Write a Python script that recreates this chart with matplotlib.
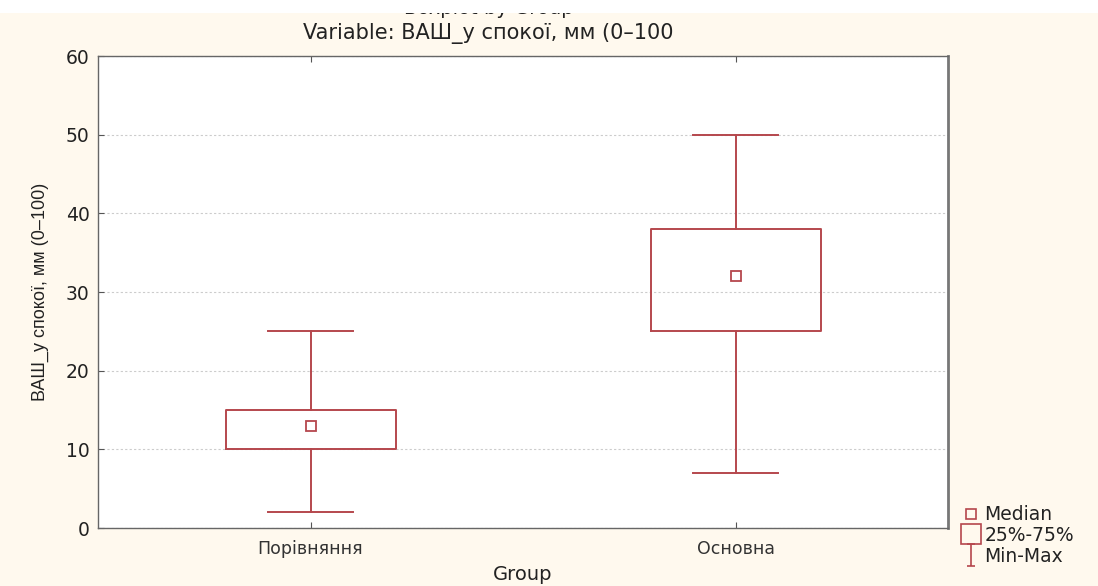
import matplotlib
matplotlib.use("Agg")
import matplotlib.pyplot as plt
from matplotlib.lines import Line2D
from matplotlib.path import Path
from matplotlib.patches import Rectangle

categories = ["Порівняння", "Основна"]
mins = [2, 7]
q1 = [10, 25]
medians = [13, 32]
q3 = [15, 38]
maxs = [25, 50]
yticks = [0, 10, 20, 30, 40, 50, 60]

col = "#b5474d"
bg = "#fff9ee"
fam = ["DejaVu Sans"]

fig = plt.figure(figsize=(10.98, 5.86), dpi=100, facecolor=bg)
ax = fig.add_axes([98/1098, 58/586, 850/1098, 472/586])
ax.set_facecolor("white")

stats = []
for i, c in enumerate(categories):
    stats.append(dict(label=c, whislo=mins[i], q1=q1[i], med=medians[i],
                      q3=q3[i], whishi=maxs[i], fliers=[]))
pos = list(range(1, len(categories) + 1))
ax.bxp(stats, positions=pos, widths=0.4, showfliers=False,
       boxprops=dict(color=col, lw=1.4),
       whiskerprops=dict(color=col, lw=1.4),
       capprops=dict(color=col, lw=1.4),
       medianprops=dict(lw=0),
       capwidths=0.2, zorder=3)
ax.plot(pos, medians, ls="none", marker="s", ms=6.5, mfc="white", mec=col,
        mew=1.3, zorder=4)

ax.set_xlim(0.5, 2.5)
ax.set_ylim(0, 60)
ax.set_yticks(yticks)
ax.set_yticklabels([str(t) for t in yticks], fontsize=13.5, family=fam,
                   color="#222")
ax.set_xticks(pos)
ax.set_xticklabels(categories, fontsize=12.5, color="#333", family=fam)
ax.tick_params(axis="both", direction="in", length=4, color="#555",
               top=True)
ax.tick_params(axis="x", pad=9)
ax.tick_params(axis="y", pad=6)
ax.yaxis.grid(True, ls=(0, (2, 2)), color="#cccccc", lw=0.8)
ax.set_axisbelow(True)
for s in ax.spines.values():
    s.set_color("#666666")
    s.set_linewidth(1.0)
ax.spines["right"].set_linewidth(2.0)
ax.spines["right"].set_color("#777777")

ax.set_ylabel("ВАШ_у спокої, мм (0–100)", fontsize=13,
              family=["Liberation Sans Narrow", "Liberation Sans", "DejaVu Sans"],
              color="#222", labelpad=12)
ax.set_xlabel("Group", fontsize=14, family=fam, color="#222", labelpad=5)

fig.text(0.445, 1 - 33/586, "Variable: ВАШ_у спокої, мм (0–100", ha="center",
         va="center", fontsize=15, family=fam, color="#222")
fig.text(0.445, 1 - 9/586, "Boxplot by Group", ha="center", va="center",
         fontsize=14, family=fam, color="#222")
fig.patches.append(Rectangle((0, 1 - 13/586), 1, 13/586, transform=fig.transFigure,
                             facecolor="white", edgecolor="none", zorder=10))

ibeam = Path([(-0.4, -1), (0.4, -1), (0, -1), (0, 1), (-0.4, 1), (0.4, 1)],
             [Path.MOVETO, Path.LINETO, Path.MOVETO, Path.LINETO,
              Path.MOVETO, Path.LINETO])
handles = [
    Line2D([], [], ls="none", marker="s", ms=7, mfc="none", mec=col, mew=1.2),
    Line2D([], [], ls="none", marker="s", ms=14, mfc="none", mec=col, mew=1.2),
    Line2D([], [], ls="none", marker=ibeam, ms=16, mfc="none", mec=col, mew=1.2),
]
leg = fig.legend(handles, ["Median", "25%-75%", "Min-Max"],
                 loc="upper left", bbox_to_anchor=(948/1098, 1 - 492/586),
                 frameon=False, handlelength=1.0,
                 handletextpad=0.25, labelspacing=0.1, borderpad=0.2,
                 prop=dict(family=fam, size=13.5))
for t in leg.get_texts():
    t.set_color("#222")

fig.savefig("out.png", dpi=100, facecolor=bg)
